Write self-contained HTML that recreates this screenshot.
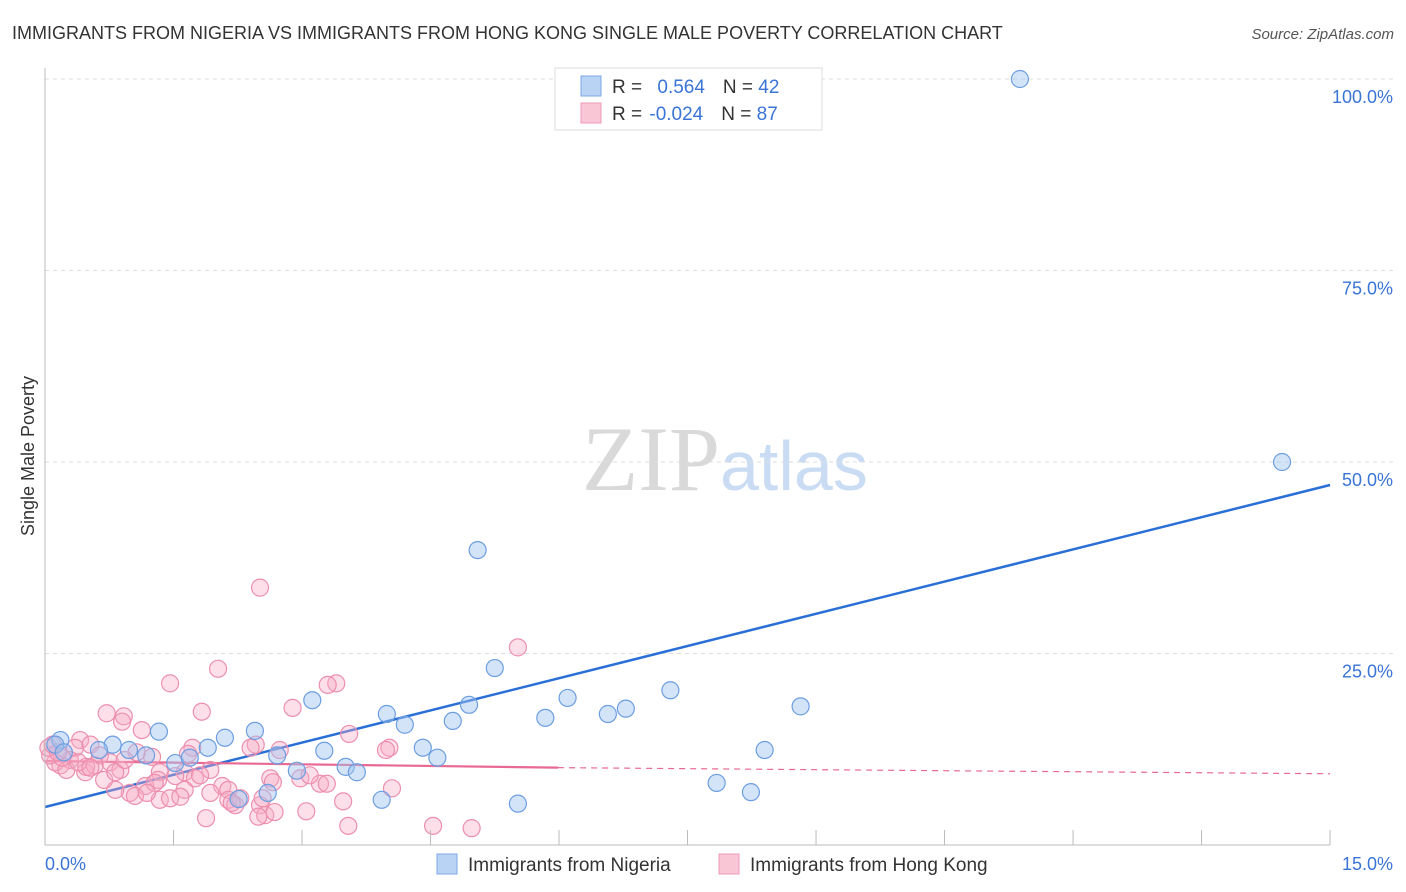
<!DOCTYPE html>
<html><head><meta charset="utf-8"><style>
body{margin:0;background:#fff;font-family:"Liberation Sans",sans-serif;}
svg{display:block}
</style></head><body>
<svg id="chart" width="1406" height="892">
<text x="12" y="39" font-size="18" fill="#333">IMMIGRANTS FROM NIGERIA VS IMMIGRANTS FROM HONG KONG SINGLE MALE POVERTY CORRELATION CHART</text>
<text x="1394" y="39" font-size="15" fill="#555" font-style="italic" text-anchor="end">Source: ZipAtlas.com</text>
<text x="720" y="490" font-size="92" fill="#d9d9d9" text-anchor="end" font-family="Liberation Serif">ZIP</text>
<text x="720" y="490" font-size="70" fill="#c9dcf3">atlas</text>
<text transform="translate(34,456) rotate(-90)" font-size="18" fill="#333" text-anchor="middle">Single Male Poverty</text>
<g id="grid"></g><g id="trend"></g><g id="pts"></g><g id="axes"></g>
<g>
<rect x="555" y="68" width="267" height="62" fill="#fff" stroke="#ddd"/>
<rect x="581" y="76" width="20" height="20" fill="#b9d3f5" stroke="#7aa7e6"/>
<rect x="581" y="103" width="20" height="20" fill="#f9c6d6" stroke="#ee9ab6"/>
<text x="612" y="93" font-size="19" fill="#333">R = <tspan fill="#3a74d6" dx="10">0.564</tspan><tspan dx="18">N = </tspan><tspan fill="#3a74d6">42</tspan></text>
<text x="612" y="120" font-size="19" fill="#333">R = <tspan fill="#3a74d6" dx="2">-0.024</tspan><tspan dx="18">N = </tspan><tspan fill="#3a74d6">87</tspan></text>
</g>
<g>
<rect x="437" y="854" width="20" height="20" fill="#b9d3f5" stroke="#7aa7e6"/>
<text x="468" y="871" font-size="19" fill="#333">Immigrants from Nigeria</text>
<rect x="719" y="854" width="20" height="20" fill="#f9c6d6" stroke="#ee9ab6"/>
<text x="750" y="871" font-size="19" fill="#333">Immigrants from Hong Kong</text>
</g>
</svg>
<script>
const xTickLabels=["0.0%","15.0%"];
const yTicks=[25,50,75,100];
const yTickLabels=["25.0%","50.0%","75.0%","100.0%"];
const nigeriaX=[11.38,14.44,5.05,5.25,3.12,7.30,6.10,6.78,6.57,8.82,4.95,5.84,3.99,4.20,4.76,1.33,2.45,2.10,1.90,0.79,0.63,0.18,0.12,0.98,1.18,1.52,1.69,2.71,3.26,4.41,4.58,8.40,2.94,3.51,3.64,7.84,8.24,2.26,2.60,3.93,5.52,0.22];
const nigeriaY=[100,50.0,38.5,23.1,18.9,20.2,19.2,17.8,17.1,18.1,18.3,16.6,17.1,15.7,16.2,14.8,14.9,14.0,12.7,13.1,12.4,13.7,13.1,12.4,11.7,10.7,11.4,11.7,12.3,12.7,11.4,12.4,9.7,10.2,9.5,8.1,6.9,6.0,6.8,5.9,5.4,12.1];
const hkX=[2.51,5.52,2.02,3.40,3.30,1.46,1.83,0.72,0.92,0.90,1.13,2.89,3.55,2.46,2.40,2.74,4.02,3.98,1.72,1.67,1.25,1.07,0.41,0.35,0.53,0.64,0.29,0.18,0.12,0.06,0.04,0.25,0.47,0.58,0.76,0.88,0.48,1.34,1.63,1.93,1.32,1.52,1.75,1.17,1.28,2.07,2.14,1.63,2.98,2.63,2.66,3.21,3.29,4.05,1.34,1.46,1.58,0.99,1.05,0.82,2.14,2.22,2.51,2.28,1.88,2.57,2.49,2.68,3.05,3.48,3.54,4.53,4.98,0.20,0.15,0.39,0.53,1.93,0.69,1.19,3.09,0.82,2.54,2.18,1.81,0.93,0.09];
const hkY=[33.6,25.8,23.0,21.1,20.9,21.1,17.4,17.2,16.8,16.1,15.0,17.9,14.5,13.1,12.7,12.4,12.7,12.4,12.7,11.9,11.5,12.1,13.7,12.7,13.1,11.7,11.1,10.4,10.8,11.7,12.7,9.8,9.5,10.4,10.8,9.8,10.2,9.5,9.5,9.8,8.5,9.0,8.7,7.7,8.1,7.7,7.2,7.2,8.7,8.7,8.2,8.0,8.0,7.4,5.9,6.1,6.3,6.8,6.4,7.2,5.9,5.2,5.2,6.1,3.5,3.9,3.7,4.3,4.4,5.7,2.5,2.5,2.2,11.4,12.1,10.8,10.1,6.8,8.5,6.8,9.1,9.5,6.1,5.5,9.1,11.1,13.1];
const nigeriaTrend=[4.96,47.0];
const hkTrend=[10.97,10.1,9.3];
const hkSolidEnd=5.99;
const X=v=>45+v*85.67, Y=v=>845-v*7.66;
const NS="http://www.w3.org/2000/svg";
function mk(parent,tag,attrs){const e=document.createElementNS(NS,tag);for(const k in attrs)e.setAttribute(k,attrs[k]);document.getElementById(parent).appendChild(e);return e;}
yTicks.forEach((t,i)=>{
 const g=mk('grid','line',{x1:45,x2:1393,y1:Y(t),y2:Y(t),stroke:'#ddd','stroke-dasharray':'4,4'});
 
 
 const l=mk('axes','text',{x:1393,y:Y(t)+24,'font-size':18,fill:'#3a74d6','text-anchor':'end'});
 l.textContent=yTickLabels[i];
 
 
});
const ax=mk('axes','line',{x1:45,x2:1330,y1:845,y2:845,stroke:'#bbb'});


const ay=mk('axes','line',{x1:45,x2:45,y1:68,y2:845,stroke:'#bbb'});


for(let i=1;i<=10;i++){
 const t=mk('axes','line',{x1:X(i*1.5),x2:X(i*1.5),y1:830,y2:845,stroke:'#bbb'});
 
 
}
[[0,'start',45],[15,'end',1393]].forEach((d,i)=>{
 const l=mk('axes','text',{x:d[2],y:870,'font-size':18,fill:'#3a74d6','text-anchor':d[1]});
 l.textContent=xTickLabels[i];
 
 
});
hkX.forEach((x,i)=>{
 const c=mk('pts','circle',{cx:X(x),cy:Y(hkY[i]),r:8.5,fill:'rgba(246,170,196,0.38)',stroke:'#ec8fae','stroke-width':1.2});
 
 
});
nigeriaX.forEach((x,i)=>{
 const c=mk('pts','circle',{cx:X(x),cy:Y(nigeriaY[i]),r:8.5,fill:'rgba(160,196,240,0.45)',stroke:'#6c9ee2','stroke-width':1.2});
 
 
});
const bt=mk('trend','line',{x1:X(0),y1:Y(nigeriaTrend[0]),x2:X(15),y2:Y(nigeriaTrend[1]),stroke:'#2a6fd6','stroke-width':2.5});


const pt=mk('trend','line',{x1:X(0),y1:Y(hkTrend[0]),x2:X(hkSolidEnd),y2:Y(hkTrend[1]),stroke:'#e86a92','stroke-width':2.2});


const pd=mk('trend','line',{x1:X(hkSolidEnd),y1:Y(hkTrend[1]),x2:X(15),y2:Y(hkTrend[2]),stroke:'#e86a92','stroke-width':1.2,'stroke-dasharray':'6,5'});


</script>
</body></html>
